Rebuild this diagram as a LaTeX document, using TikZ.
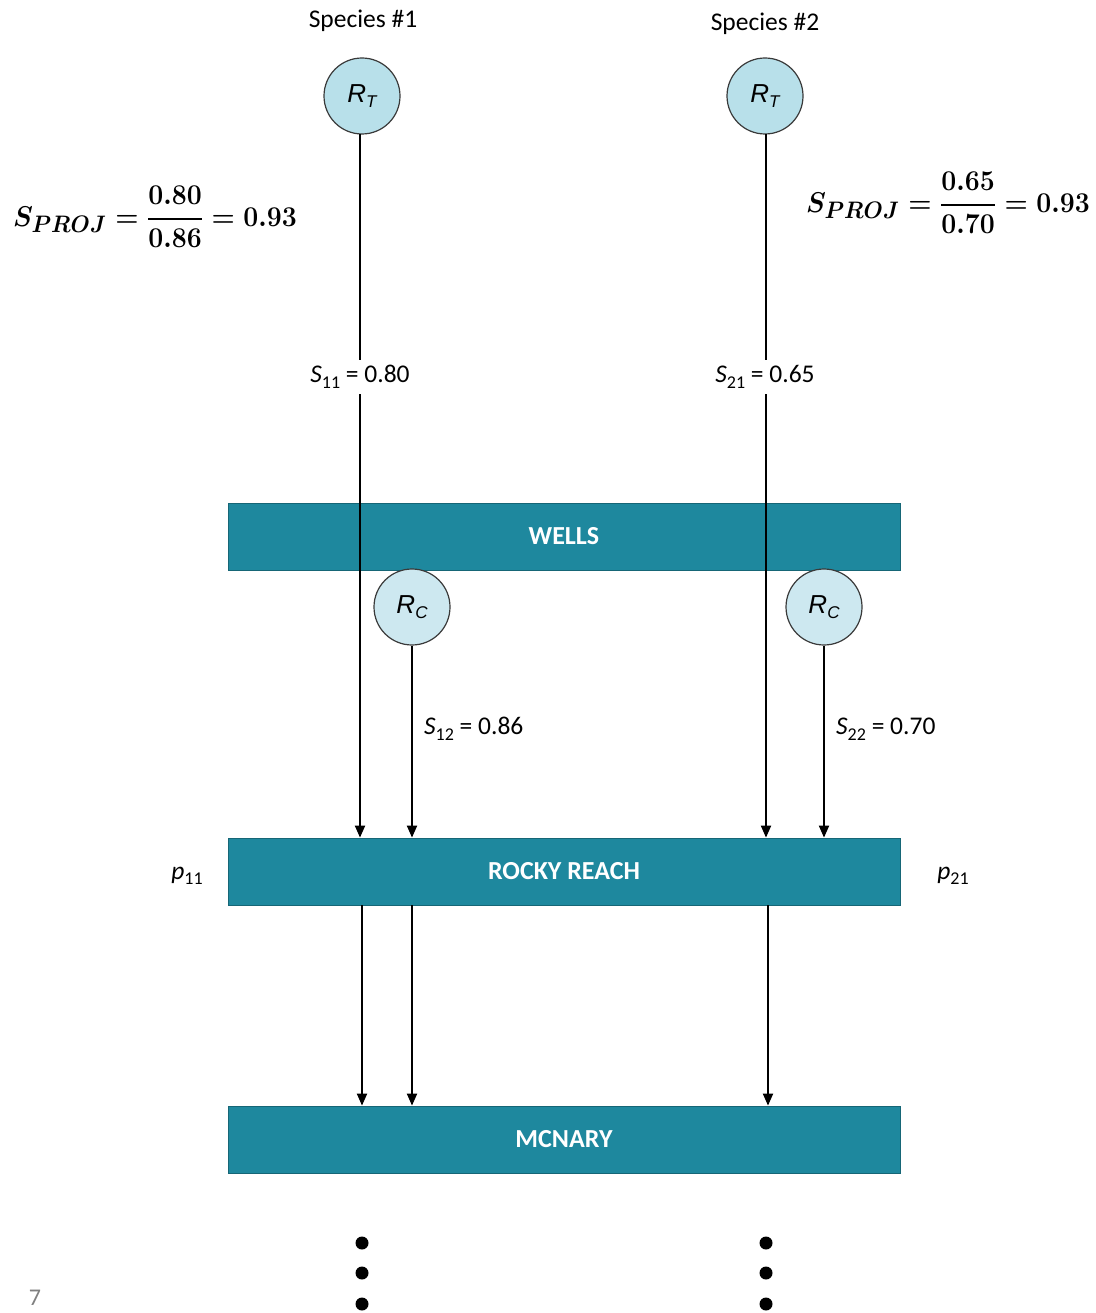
\documentclass[tikz,border=0pt]{standalone}
\usepackage[no-math]{fontspec}
\setmainfont{Carlito}
\newfontfamily\arialfont{Liberation Sans}
\usepackage{amsmath}
\usepackage{graphicx}
\usetikzlibrary{arrows.meta}
\definecolor{teal1}{HTML}{1E889E}
\definecolor{rtfill}{HTML}{B8E0EA}
\definecolor{rcfill}{HTML}{CDE8F0}
\definecolor{circedge}{HTML}{3A3A3A}
\newsavebox\myboxA
\newsavebox\myboxB
\newcommand\mysub[1]{\raisebox{-0.35ex}{\fontsize{17}{18}\selectfont #1}}
\newcommand\mylsub[1]{\raisebox{-0.45ex}{\fontsize{18}{18}\selectfont #1}}
\tikzset{
  dam/.style={draw=teal1!75!black, line width=0.8pt, fill=teal1, minimum width=672pt, minimum height=67pt, inner sep=0pt,
     text=white, font=\fontsize{26}{30}\selectfont\bfseries},
  rtcirc/.style={circle, draw=circedge, line width=1.2pt, fill=rtfill, minimum size=76pt, inner sep=0pt,
     font=\arialfont\itshape\fontsize{26}{30}\selectfont},
  rccirc/.style={rtcirc, fill=rcfill},
  arr/.style={line width=2pt, -{Triangle[length=12pt,width=10pt]}},
  lbl/.style={font=\fontsize{25.5}{30}\selectfont, inner sep=2pt},
  frm/.style={inner sep=0pt},
  dotc/.style={circle, fill=black, minimum size=13pt, inner sep=0pt}
}
\begin{document}
\sbox\myboxA{\scalebox{1.07}[1.15]{\fontsize{24.88}{30}\selectfont\boldmath$\displaystyle S_{PROJ}=\frac{0.80}{0.86}=0.93$}}%
\sbox\myboxB{\scalebox{1.07}[1.15]{\fontsize{24.88}{30}\selectfont\boldmath$\displaystyle S_{PROJ}=\frac{0.65}{0.70}=0.93$}}%
\begin{tikzpicture}[x=1pt,y=-1pt]
\useasboundingbox (0,0) rectangle (1095,1313);
% dams
\node[dam] (WE) at (564,536.5) {WELLS};
\node[dam] (RR) at (564,871.5) {ROCKY REACH};
\node[dam] (MC) at (564,1139.5) {MCNARY};
% species titles
\node[lbl] (sp1) at (363,21) {Species \#1};
\node[lbl] (sp2) at (765,24) {Species \#2};
% release circles
\node[rtcirc] (RT1) at (362,96) {R\mysub{T}};
\node[rtcirc] (RT2) at (765,96) {R\mysub{T}};
\node[rccirc] (RC1) at (412,607) {R\mysub{C}};
\node[rccirc] (RC2) at (824,607) {R\mysub{C}};
% coordinates for line ends
\coordinate (a1) at (360,134);
\coordinate (a2) at (766,134);
% long arrows
\draw[arr] (a1) -- (a1 |- RR.north);
\draw[arr] (a2) -- (a2 |- RR.north);
\draw[arr] (RC1.south) -- (RC1.south |- RR.north);
\draw[arr] (RC2.south) -- (RC2.south |- RR.north);
% labels on lines
\node[lbl, fill=white, inner ysep=6pt] (s11) at (360,377) {\textit{S}\mylsub{11} = 0.80};
\node[lbl, fill=white, inner ysep=6pt] (s21) at (765,377) {\textit{S}\mylsub{21} = 0.65};
\node[lbl, anchor=west] (s12) at (422,729) {\textit{S}\mylsub{12} = 0.86};
\node[lbl, anchor=west] (s22) at (834,729) {\textit{S}\mylsub{22} = 0.70};
% p labels
\node[lbl] (p11) at (187,876) {\textit{p}\mylsub{11}};
\node[lbl] (p21) at (953,876) {\textit{p}\mylsub{21}};
% arrows RR -> MC
\coordinate (b1) at (362,905);
\coordinate (b3) at (768,905);
\draw[arr] (b1) -- (b1 |- MC.north);
\draw[arr] (RC1.south |- RR.south) -- (RC1.south |- MC.north);
\draw[arr] (b3) -- (b3 |- MC.north);
% formulas
\node[frm] (fa) at (155,217) {\usebox\myboxA};
\node[frm] (fb) at (948,203) {\usebox\myboxB};
% continuation dots
\node[dotc] (dl1) at (362,1243) {};
\node[dotc] (dl2) at (362,1273) {};
\node[dotc] (dl3) at (362,1304) {};
\node[dotc] (dr1) at (766,1243) {};
\node[dotc] (dr2) at (766,1273) {};
\node[dotc] (dr3) at (766,1304) {};
% page number
\node[font=\fontsize{24}{28}\selectfont, text=gray, anchor=base, inner sep=0pt] (pg) at (35,1305) {7};
\end{tikzpicture}
\end{document}
